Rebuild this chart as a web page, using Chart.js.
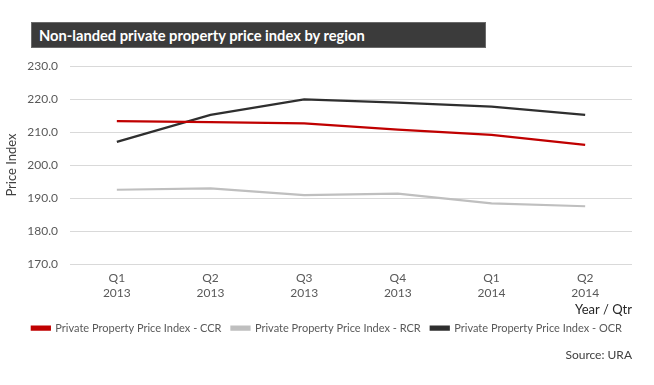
<!DOCTYPE html>
<html>
<head>
<meta charset="utf-8">
<script src="https://cdn.jsdelivr.net/npm/chart.js@4.4.1/dist/chart.umd.min.js"></script>
<style>
  html, body { margin: 0; padding: 0; background: #ffffff; }
  #wrap { position: relative; width: 654px; height: 385px; }
  #c { position: absolute; left: 0; top: 0; }
  #titlebox {
    position: absolute; left: 31px; top: 22px; width: 455px; height: 26px;
    background: #3b3b3b; border: 1px solid #6a6a6a; box-sizing: border-box;
    color: #ffffff; font-family: Lato, "Open Sans", sans-serif; font-weight: bold;
    font-size: 14.7px; line-height: 24px; padding-left: 7px; white-space: nowrap;
  }
</style>
</head>
<body>
<div id="wrap">
  <canvas id="c" width="654" height="385"></canvas>
  <div id="titlebox">Non-landed private property price index by region</div>
</div>
<script>
const categories = [['Q1', '2013'], ['Q2', '2013'], ['Q3', '2013'], ['Q4', '2013'], ['Q1', '2014'], ['Q2', '2014']];
const ccrValues = [213.3, 213.0, 212.6, 210.7, 209.1, 206.1];
const rcrValues = [192.5, 192.9, 190.9, 191.3, 188.4, 187.5];
const ocrValues = [207.0, 215.2, 219.9, 218.9, 217.7, 215.2];
const seriesNames = ['Private Property Price Index - CCR', 'Private Property Price Index - RCR', 'Private Property Price Index - OCR'];
const yTicks = [170, 180, 190, 200, 210, 220, 230];

const FONT = 'Lato, "Open Sans", sans-serif';

new Chart(document.getElementById('c'), {
  type: 'line',
  data: {
    labels: categories,
    datasets: [
      { label: seriesNames[0], data: ccrValues, borderColor: '#c00000', backgroundColor: '#c00000', borderWidth: 2.25, pointRadius: 0, tension: 0 },
      { label: seriesNames[1], data: rcrValues, borderColor: '#bfbfbf', backgroundColor: '#bfbfbf', borderWidth: 2.25, pointRadius: 0, tension: 0 },
      { label: seriesNames[2], data: ocrValues, borderColor: '#2f2f2f', backgroundColor: '#2f2f2f', borderWidth: 2.25, pointRadius: 0, tension: 0 }
    ]
  },
  options: {
    responsive: false,
    animation: false,
    layout: { padding: { left: 0, right: 22, top: 66, bottom: 23 } },
    scales: {
      x: {
        offset: true,
        grid: { display: false, drawTicks: false },
        border: { display: false },
        ticks: { color: '#595959', font: { family: FONT, size: 12, lineHeight: 1.25 }, padding: 7, maxRotation: 0 },
        title: { display: true, text: 'Year / Qtr', align: 'end', color: '#262626', font: { family: FONT, size: 13 }, padding: { top: -6, bottom: -5 } }
      },
      y: {
        min: 170, max: 230,
        afterFit: (s) => { s.width = 70; },
        afterBuildTicks: (s) => { s.ticks = yTicks.map(v => ({ value: v })); },
        grid: { color: '#d9d9d9', lineWidth: 1, drawTicks: false },
        border: { display: false },
        ticks: { color: '#595959', font: { family: FONT, size: 12 }, padding: 12, callback: (v) => Number(v).toFixed(1) },
        title: { display: true, text: 'Price Index', color: '#404040', font: { family: FONT, size: 13 }, padding: { top: 4, bottom: 0 } }
      }
    },
    plugins: {
      legend: {
        position: 'bottom',
        align: 'end',
        labels: { boxWidth: 18, boxHeight: 3, color: '#595959', font: { family: FONT, size: 11 }, padding: 10 }
      },
      subtitle: {
        display: true, position: 'bottom', align: 'end', text: 'Source: URA',
        color: '#404040', font: { family: FONT, size: 12, weight: 'normal' }, padding: { top: 4, bottom: 0 }
      },
      title: { display: false },
      tooltip: { enabled: false }
    }
  }
});
</script>
</body>
</html>
